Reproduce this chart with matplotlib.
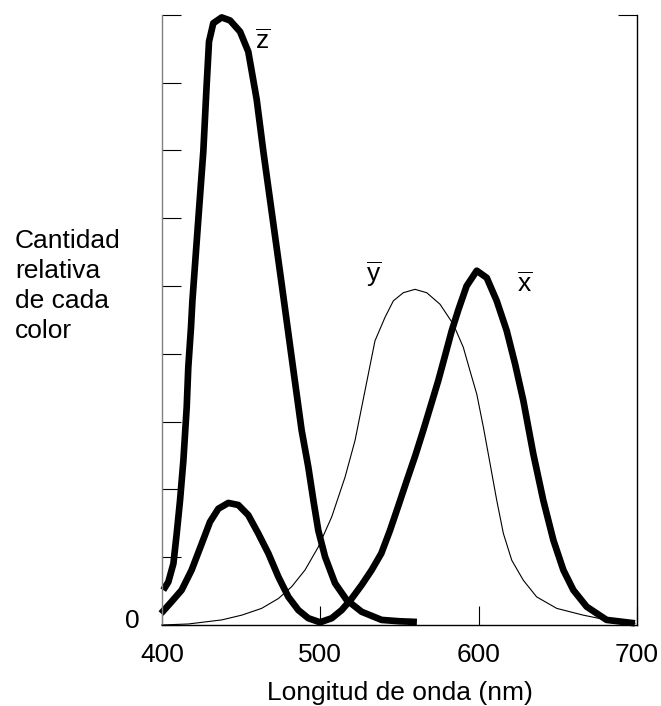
import matplotlib
matplotlib.use("Agg")
import matplotlib.pyplot as plt
import matplotlib.transforms as mtransforms

plt.rcParams['font.family'] = ['Liberation Sans', 'DejaVu Sans']
plt.rcParams['mathtext.fontset'] = 'custom'
plt.rcParams['mathtext.rm'] = 'Liberation Sans'
plt.rcParams['mathtext.it'] = 'Liberation Sans'

# ---- data ----
z_wl = [400.8, 404.0, 407.2, 409.3, 411.4, 413.5, 415.6, 416.6, 418.3, 419.2, 423.0, 426.1,
        428.2, 429.7, 432.4, 437.7, 443.0, 449.3, 454.5, 459.8, 464.0, 469.8, 475.6,
        481.3, 488.2, 492.4, 495.6, 498.7, 503.0, 509.3, 516.6, 526.1, 538.7, 550.0, 561.0]
z_val = [0.103, 0.127, 0.181, 0.270, 0.368, 0.485, 0.642, 0.760, 0.877, 0.956, 1.201, 1.397,
         1.593, 1.721, 1.775, 1.792, 1.783, 1.750, 1.691, 1.550, 1.397, 1.201, 1.005,
         0.809, 0.574, 0.466, 0.368, 0.279, 0.201, 0.123, 0.074, 0.039, 0.015, 0.011, 0.009]

x_wl = [399.4, 406.1, 412.4, 418.7, 425.1, 430.3, 435.6, 441.9, 448.2, 454.5, 460.8, 467.2,
        473.5, 479.8, 486.1, 492.4, 499.8, 507.2, 513.5, 519.8, 526.1, 532.4, 538.5, 544.0,
        549.3, 554.6, 560.0, 565.0, 569.8, 574.5, 578.8, 583.0, 587.2, 592.4, 598.8, 605.1,
        611.4, 617.7, 623.0, 628.2, 634.5, 640.8, 647.2, 653.5, 659.8, 668.2, 680.8, 698.7]
x_val = [0.034, 0.069, 0.103, 0.162, 0.240, 0.304, 0.343, 0.360, 0.354, 0.324, 0.270, 0.211,
         0.142, 0.083, 0.044, 0.020, 0.008, 0.020, 0.044, 0.078, 0.118, 0.162, 0.211, 0.279,
         0.352, 0.426, 0.500, 0.574, 0.648, 0.721, 0.795, 0.868, 0.930, 1.000, 1.045, 1.024,
         0.956, 0.868, 0.770, 0.662, 0.505, 0.368, 0.250, 0.162, 0.103, 0.054, 0.015, 0.005]

y_wl = [399.8, 416.6, 437.7, 450.3, 462.9, 473.5, 481.9, 490.3, 498.7, 507.2, 515.6, 521.9,
        526.1, 530.3, 534.5, 540.8, 546.1, 552.4, 559.8, 567.2, 575.6, 584.0, 590.3, 594.5,
        598.8, 603.0, 607.2, 611.4, 615.6, 620.9, 628.2, 636.6, 649.3, 666.1, 680.8, 698.7]
y_val = [0.0, 0.003, 0.015, 0.029, 0.049, 0.078, 0.113, 0.162, 0.230, 0.319, 0.436, 0.544,
         0.642, 0.740, 0.838, 0.907, 0.956, 0.980, 0.990, 0.980, 0.946, 0.887, 0.819, 0.750,
         0.681, 0.583, 0.476, 0.368, 0.270, 0.191, 0.132, 0.083, 0.049, 0.029, 0.015, 0.005]

curve_labels = [r'$\overline{\mathrm{z}}$', r'$\overline{\mathrm{y}}$', r'$\overline{\mathrm{x}}$']
label_pos = [(463.8, 1.72), (533.7, 1.035), (629.3, 1.003)]

x_ticks = [400, 500, 600, 700]
y_ticks = [0, 0.2, 0.4, 0.6, 0.8, 1.0, 1.2, 1.4, 1.6, 1.8]
ylabel_text = "Cantidad\nrelativa\nde cada\ncolor"
xlabel_text = "Longitud de onda (nm)"

FS = 19

# ---- figure ----
fig = plt.figure(figsize=(6.61, 7.06), dpi=100)
ax = fig.add_axes([162/661, 1-625/706, (637-162)/661, (625-14.7)/706])

ax.plot(z_wl, z_val, color='black', lw=4.8, solid_joinstyle='round', solid_capstyle='butt', clip_on=False)
ax.plot(x_wl, x_val, color='black', lw=4.8, solid_joinstyle='round', solid_capstyle='butt', clip_on=False)
ax.plot(y_wl, y_val, color='black', lw=0.8, solid_joinstyle='round', clip_on=False)

ax.set_xlim(400, 700)
ax.set_ylim(0, 1.8)

for lab, (px, py) in zip(curve_labels, label_pos):
    ax.text(px, py, lab, fontsize=FS, ha='center', va='center')

ax.spines['top'].set_visible(False)
ax.spines['left'].set_color('#808080')
ax.spines['right'].set_color('black')
ax.spines['bottom'].set_color('black')
for s in ax.spines.values():
    s.set_linewidth(1.0)

ax.set_xticks(x_ticks)
ax.set_xticklabels([str(v) for v in x_ticks], fontsize=FS)
ax.tick_params(axis='x', direction='in', length=14, width=0.8, color='black', pad=13)

ax.set_yticks(y_ticks)
ax.set_yticklabels(['0'] + [''] * (len(y_ticks) - 1), fontsize=FS)
ax.tick_params(axis='y', direction='in', length=14, width=0.8, color='black', pad=16)
offset = mtransforms.ScaledTranslation(0, 0.07, fig.dpi_scale_trans)
for lbl in ax.get_yticklabels():
    lbl.set_transform(lbl.get_transform() + offset)

sec = ax.secondary_yaxis('right')
sec.set_yticks([1.8])
sec.set_yticklabels([''])
sec.tick_params(direction='in', length=14, width=0.8, color='black')
sec.spines['right'].set_visible(False)

fig.text(15/661, 1-229/706, ylabel_text, fontsize=FS, ha='left', va='top', linespacing=1.31)

fig.text(399.5/661, 1-700/706, xlabel_text, fontsize=FS, ha='center', va='baseline')

fig.savefig('out.png', dpi=100)
